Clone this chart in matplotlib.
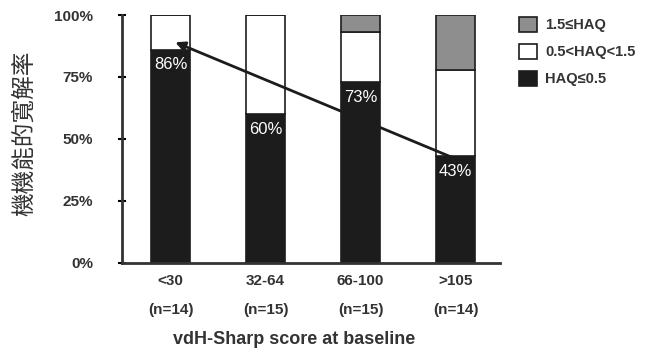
import numpy as np
import matplotlib.pyplot as plt

plt.rcParams['font.family'] = ['Liberation Sans', 'DejaVu Sans']

# data
grupos = ['<30', '32-64', '66-100', '>105']
n_grupo = ['(n=14)', '(n=15)', '(n=15)', '(n=14)']
haq_baixo = np.array([86, 60, 73, 43])      # HAQ<=0.5
haq_medio = np.array([14, 40, 20, 35])      # 0.5<HAQ<1.5
haq_alto = np.array([0, 0, 7, 22])          # 1.5<=HAQ
seta_y = [89, 42]                            # trend arrow, % at first and last group

x = np.arange(len(grupos))
largura = 0.41

fig = plt.figure(figsize=(6.53, 3.53), dpi=100)
ax = fig.add_axes([0.187, 0.255, 0.579, 0.7025])

escuro = '#1c1c1c'
cinza = '#8e8e8e'
b1 = ax.bar(x, haq_baixo, largura, color=escuro, edgecolor=escuro, linewidth=1.2,
            label='HAQ≤0.5')
b2 = ax.bar(x, haq_medio, largura, bottom=haq_baixo, color='white', edgecolor=escuro,
            linewidth=1.2, label='0.5<HAQ<1.5')
b3 = ax.bar(x, haq_alto, largura, bottom=haq_baixo + haq_medio, color=cinza,
            edgecolor=escuro, linewidth=1.2, label='1.5≤HAQ')

for xi, v in zip(x, haq_baixo):
    ax.annotate('%d%%' % v, (xi, v), xytext=(0, -11), textcoords='offset points',
                ha='center', va='center', color='white', fontsize=12)

ax.annotate('', xy=(x[0] + 0.05, seta_y[0]), xytext=(x[-1], seta_y[1]),
            arrowprops=dict(arrowstyle='-|>', color=escuro, lw=2,
                            mutation_scale=14, shrinkA=0, shrinkB=0))

ax.set_xlim(-0.51, 3.47)
ax.set_ylim(0, 100)
ax.set_yticks([0, 25, 50, 75, 100])
ax.set_yticklabels(['0%', '25%', '50%', '75%', '100%'], fontsize=11,
                   fontweight='bold', color='#333333')
ax.tick_params(axis='y', direction='inout', length=6, width=1.5, pad=18)
ax.set_xticks(x)
ax.set_xticklabels(grupos, fontsize=11, fontweight='bold', color='#333333')
ax.tick_params(axis='x', length=0, pad=8)
for xi, t in zip(x, n_grupo):
    ax.text(xi, -0.19, t, transform=ax.get_xaxis_transform(), ha='center', va='center',
            fontsize=11, fontweight='bold', color='#333333')
ax.text(1.3, -0.31, 'vdH-Sharp score at baseline', transform=ax.get_xaxis_transform(),
        ha='center', va='center', fontsize=13, fontweight='bold', color='#333333')

for s in ['top', 'right']:
    ax.spines[s].set_visible(False)
ax.spines['left'].set_linewidth(2)
ax.spines['bottom'].set_linewidth(2)
ax.spines['left'].set_color('#333333')
ax.spines['bottom'].set_color('#333333')

fig.text(0.038, 0.623, '機機能的寬解率', rotation=90, ha='center', va='center',
         fontsize=17, color='#333333', family=['Noto Sans CJK TC', 'DejaVu Sans'])

leg = fig.legend(handles=[b3, b2, b1], loc='upper left', bbox_to_anchor=(0.775, 0.99),
                 frameon=False, handlelength=1.2, handleheight=1.2,
                 labelspacing=0.8, handletextpad=0.6, prop={'weight': 'bold', 'size': 10.5})
for t in leg.get_texts():
    t.set_color('#333333')

fig.savefig('out.png', dpi=100)
